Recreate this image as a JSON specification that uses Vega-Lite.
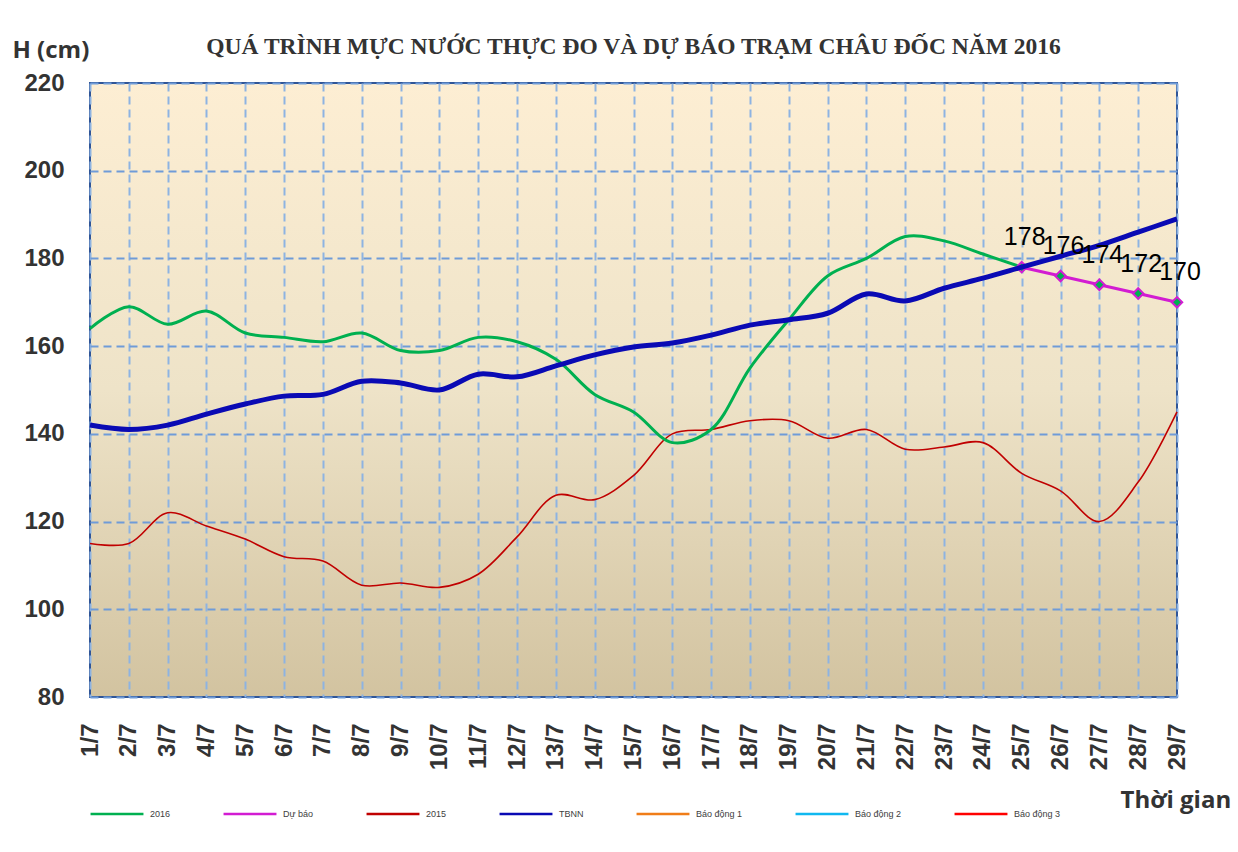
{
  "$schema": "https://vega.github.io/schema/vega-lite/v6.json",
  "autosize": {"type": "none"},
  "width": 1087,
  "height": 614,
  "padding": {"left": 90, "top": 83, "right": 61, "bottom": 155},
  "background": "white",
  "title": {
    "text": "QUÁ TRÌNH MỰC NƯỚC THỰC ĐO VÀ DỰ BÁO TRẠM CHÂU ĐỐC  NĂM 2016",
    "font": "Liberation Serif",
    "fontSize": 23.5,
    "fontWeight": "bold",
    "color": "#333333",
    "anchor": "middle",
    "offset": -20
  },
  "view": {
    "fill": {"gradient": "linear", "x1": 0, "y1": 0, "x2": 0, "y2": 1,
      "stops": [{"offset": 0, "color": "#FDEED3"}, {"offset": 0.5, "color": "#EEE3C8"}, {"offset": 1, "color": "#D2C3A0"}]},
    "stroke": "#2F5597",
    "strokeWidth": 2
  },
  "data": {"values": [
    {"day": "1/7", "series": "2016", "value": 164},
    {"day": "2/7", "series": "2016", "value": 169},
    {"day": "3/7", "series": "2016", "value": 165},
    {"day": "4/7", "series": "2016", "value": 168},
    {"day": "5/7", "series": "2016", "value": 163},
    {"day": "6/7", "series": "2016", "value": 162},
    {"day": "7/7", "series": "2016", "value": 161},
    {"day": "8/7", "series": "2016", "value": 163},
    {"day": "9/7", "series": "2016", "value": 159},
    {"day": "10/7", "series": "2016", "value": 159},
    {"day": "11/7", "series": "2016", "value": 162},
    {"day": "12/7", "series": "2016", "value": 161},
    {"day": "13/7", "series": "2016", "value": 157},
    {"day": "14/7", "series": "2016", "value": 149},
    {"day": "15/7", "series": "2016", "value": 145},
    {"day": "16/7", "series": "2016", "value": 138},
    {"day": "17/7", "series": "2016", "value": 141},
    {"day": "18/7", "series": "2016", "value": 155},
    {"day": "19/7", "series": "2016", "value": 166},
    {"day": "20/7", "series": "2016", "value": 176},
    {"day": "21/7", "series": "2016", "value": 180},
    {"day": "22/7", "series": "2016", "value": 185},
    {"day": "23/7", "series": "2016", "value": 184},
    {"day": "24/7", "series": "2016", "value": 181},
    {"day": "25/7", "series": "2016", "value": 178},
    {"day": "25/7", "series": "Dự báo", "value": 178},
    {"day": "26/7", "series": "Dự báo", "value": 176},
    {"day": "27/7", "series": "Dự báo", "value": 174},
    {"day": "28/7", "series": "Dự báo", "value": 172},
    {"day": "29/7", "series": "Dự báo", "value": 170},
    {"day": "1/7", "series": "2015", "value": 115},
    {"day": "2/7", "series": "2015", "value": 115},
    {"day": "3/7", "series": "2015", "value": 122},
    {"day": "4/7", "series": "2015", "value": 119},
    {"day": "5/7", "series": "2015", "value": 116},
    {"day": "6/7", "series": "2015", "value": 112},
    {"day": "7/7", "series": "2015", "value": 111},
    {"day": "8/7", "series": "2015", "value": 105.5},
    {"day": "9/7", "series": "2015", "value": 106},
    {"day": "10/7", "series": "2015", "value": 105},
    {"day": "11/7", "series": "2015", "value": 108},
    {"day": "12/7", "series": "2015", "value": 116.5},
    {"day": "13/7", "series": "2015", "value": 126},
    {"day": "14/7", "series": "2015", "value": 125},
    {"day": "15/7", "series": "2015", "value": 130.5},
    {"day": "16/7", "series": "2015", "value": 140},
    {"day": "17/7", "series": "2015", "value": 141},
    {"day": "18/7", "series": "2015", "value": 143},
    {"day": "19/7", "series": "2015", "value": 143},
    {"day": "20/7", "series": "2015", "value": 139},
    {"day": "21/7", "series": "2015", "value": 141},
    {"day": "22/7", "series": "2015", "value": 136.5},
    {"day": "23/7", "series": "2015", "value": 137},
    {"day": "24/7", "series": "2015", "value": 138},
    {"day": "25/7", "series": "2015", "value": 131},
    {"day": "26/7", "series": "2015", "value": 127},
    {"day": "27/7", "series": "2015", "value": 120},
    {"day": "28/7", "series": "2015", "value": 129},
    {"day": "29/7", "series": "2015", "value": 145},
    {"day": "1/7", "series": "TBNN", "value": 142},
    {"day": "2/7", "series": "TBNN", "value": 141},
    {"day": "3/7", "series": "TBNN", "value": 142},
    {"day": "4/7", "series": "TBNN", "value": 144.5},
    {"day": "5/7", "series": "TBNN", "value": 146.8},
    {"day": "6/7", "series": "TBNN", "value": 148.6},
    {"day": "7/7", "series": "TBNN", "value": 149},
    {"day": "8/7", "series": "TBNN", "value": 152},
    {"day": "9/7", "series": "TBNN", "value": 151.6},
    {"day": "10/7", "series": "TBNN", "value": 150},
    {"day": "11/7", "series": "TBNN", "value": 153.6},
    {"day": "12/7", "series": "TBNN", "value": 153},
    {"day": "13/7", "series": "TBNN", "value": 155.5},
    {"day": "14/7", "series": "TBNN", "value": 158},
    {"day": "15/7", "series": "TBNN", "value": 159.8},
    {"day": "16/7", "series": "TBNN", "value": 160.7},
    {"day": "17/7", "series": "TBNN", "value": 162.5},
    {"day": "18/7", "series": "TBNN", "value": 164.8},
    {"day": "19/7", "series": "TBNN", "value": 166},
    {"day": "20/7", "series": "TBNN", "value": 167.5},
    {"day": "21/7", "series": "TBNN", "value": 171.9},
    {"day": "22/7", "series": "TBNN", "value": 170.3},
    {"day": "23/7", "series": "TBNN", "value": 173.2},
    {"day": "24/7", "series": "TBNN", "value": 175.5},
    {"day": "25/7", "series": "TBNN", "value": 178},
    {"day": "26/7", "series": "TBNN", "value": 180.5},
    {"day": "27/7", "series": "TBNN", "value": 183},
    {"day": "28/7", "series": "TBNN", "value": 186},
    {"day": "29/7", "series": "TBNN", "value": 189}
  ]},
  "encoding": {
    "x": {
      "field": "day", "type": "ordinal", "sort": null,
      "scale": {"type": "point", "padding": 0,
        "domain": ["1/7","2/7","3/7","4/7","5/7","6/7","7/7","8/7","9/7","10/7","11/7","12/7","13/7","14/7","15/7","16/7","17/7","18/7","19/7","20/7","21/7","22/7","23/7","24/7","25/7","26/7","27/7","28/7","29/7"]},
      "axis": {
        "title": "Thời gian", "titleFont": "Open Sans", "titleFontSize": 24, "titleFontWeight": "bold", "titleColor": "#333333",
        "titleAngle": 0, "titleAlign": "left", "titleBaseline": "middle", "titleX": 1030, "titleY": 103,
        "labelAngle": 270, "labelAlign": "right", "labelBaseline": "middle", "labelFont": "Liberation Sans", "labelFontSize": 24, "labelFontWeight": "bold", "labelColor": "#333333", "labelPadding": 26,
        "domain": false, "ticks": false,
        "grid": true, "gridColor": "#8DB3E2", "gridWidth": 2, "gridDash": [8, 5]
      }
    },
    "y": {
      "field": "value", "type": "quantitative",
      "scale": {"domain": [80, 220], "nice": false, "zero": false},
      "axis": {
        "title": "H (cm)", "titleFont": "Open Sans", "titleFontSize": 24, "titleFontWeight": "bold", "titleColor": "#333333",
        "titleAngle": 0, "titleAlign": "left", "titleBaseline": "middle", "titleX": -78, "titleY": -33,
        "values": [80, 100, 120, 140, 160, 180, 200, 220],
        "labelFont": "Liberation Sans", "labelFontSize": 24, "labelFontWeight": "bold", "labelColor": "#333333", "labelPadding": 26,
        "domain": false, "ticks": false,
        "grid": true, "gridColor": "#6F9BD8", "gridWidth": 2, "gridDash": [8, 5]
      }
    },
    "color": {
      "field": "series", "type": "nominal",
      "scale": {
        "domain": ["2016", "Dự báo", "2015", "TBNN", "Báo động 1", "Báo động 2", "Báo động 3"],
        "range": ["#00B050", "#D21CD2", "#C00000", "#0A0AB4", "#F07D18", "#10B8F0", "#FF0000"]
      },
      "legend": {
        "title": null, "orient": "none", "legendX": -1, "legendY": 703, "direction": "horizontal", "columns": 7,
        "symbolType": "stroke", "symbolSize": 2800, "symbolStrokeWidth": 2.5,
        "labelFont": "Liberation Sans", "labelFontSize": 9, "labelColor": "#404040", "columnPadding": 47, "labelOffset": 5
      }
    }
  },
  "layer": [
    {"transform": [{"filter": "datum.series === '2015'"}],
     "mark": {"type": "line", "interpolate": "catmull-rom", "strokeWidth": 1.6}},
    {"transform": [{"filter": "datum.series === '2016'"}],
     "mark": {"type": "line", "interpolate": "catmull-rom", "strokeWidth": 3}},
    {"transform": [{"filter": "datum.series === 'Dự báo'"}],
     "mark": {"type": "line", "strokeWidth": 3}},
    {"transform": [{"filter": "datum.series === 'Dự báo'"}],
     "mark": {"type": "point", "shape": "diamond", "filled": true, "fill": "#00B050", "stroke": "#D21CD2", "strokeWidth": 2, "size": 110, "opacity": 1},
     "encoding": {"color": {"value": "#D21CD2"}, "fill": {"value": "#00B050"}}},
    {"transform": [{"filter": "datum.series === 'TBNN'"}],
     "mark": {"type": "line", "interpolate": "catmull-rom", "strokeWidth": 5}},
    {"transform": [{"filter": "datum.series === 'Dự báo'"}],
     "mark": {"type": "text", "font": "Liberation Sans", "fontSize": 25, "color": "#000000", "align": "center", "baseline": "alphabetic", "dx": 3, "dy": -22},
     "encoding": {"text": {"field": "value", "type": "quantitative"}, "color": {"value": "#000000"}}}
  ]
}
